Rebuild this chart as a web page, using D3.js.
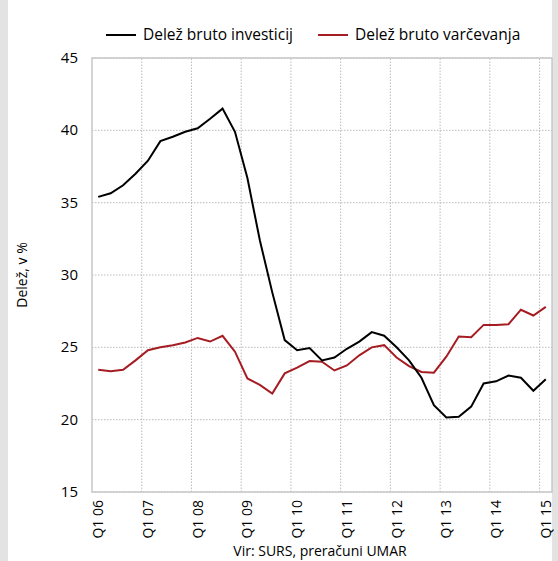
<!DOCTYPE html>
<html><head><meta charset="utf-8">
<script src="https://cdn.jsdelivr.net/npm/d3@7"></script>
<style>body{margin:0;background:#e3e3e3}svg{display:block}</style>
</head><body><div id="chart"></div>
<script>
const years = ["06","07","08","09","10","11","12","13","14","15"];
const quarters = [];
years.forEach((y, i) => { for (let q = 1; q <= 4; q++) if (i < 9 || q === 1) quarters.push("Q" + q + " " + y); });
const investicije = [35.4,35.65,36.2,37.0,37.9,39.25,39.56,39.9,40.14,40.8,41.5,39.9,36.7,32.4,28.8,25.5,24.8,24.95,24.1,24.3,24.9,25.4,26.05,25.8,25.0,24.1,22.9,21.0,20.15,20.2,20.9,22.5,22.65,23.05,22.9,22.0,22.8];
const varcevanje = [23.45,23.35,23.45,24.1,24.8,25.0,25.15,25.33,25.65,25.4,25.8,24.7,22.85,22.4,21.8,23.2,23.6,24.05,24.0,23.4,23.75,24.45,25.0,25.15,24.3,23.7,23.3,23.25,24.35,25.75,25.7,26.55,26.55,26.6,27.6,27.2,27.8];
const yTicks = [15,20,25,30,35,40,45];

const W = 558, H = 561, m = {l: 92, r: 6, t: 58, b: 69};
const svg = d3.select("#chart").append("svg").attr("width", W).attr("height", H)
  .style("font-family", "'Open Sans', sans-serif");
svg.append("rect").attr("x", 8).attr("y", 0).attr("width", 544).attr("height", H).attr("fill", "#fff");

const x = d3.scaleBand().domain(quarters).range([m.l, W - m.r]);
const y = d3.scaleLinear().domain([15, 45]).range([H - m.b, m.t]);
const cx = d => x(d) + x.bandwidth() / 2;

const g = svg.append("g");
g.selectAll(".hg").data(yTicks).enter().append("line")
  .attr("x1", m.l).attr("x2", x.range()[1]).attr("y1", d => y(d)).attr("y2", d => y(d))
  .attr("stroke", "#bbb").attr("stroke-dasharray", "1.5,1.5");
const q1 = quarters.filter(q => q.startsWith("Q1"));
g.selectAll(".vg").data(q1.slice(1)).enter().append("line")
  .attr("x1", d => x(d)).attr("x2", d => x(d)).attr("y1", y(15)).attr("y2", y(45))
  .attr("stroke", "#bbb").attr("stroke-dasharray", "1.5,1.5");
g.append("rect").attr("x", m.l).attr("y", y(45)).attr("width", x.range()[1] - m.l).attr("height", y(15) - y(45))
  .attr("fill", "none").attr("stroke", "#c8c8c8").attr("stroke-width", 1.5);

g.selectAll(".yt").data(yTicks).enter().append("text")
  .attr("x", 78).attr("y", d => y(d) + 5).attr("text-anchor", "end").attr("font-size", 15).text(d => d);
g.selectAll(".xt").data(q1).enter().append("text")
  .attr("transform", d => `translate(${cx(d) + 5},${y(15) + 8}) rotate(-90)`)
  .attr("text-anchor", "end").attr("font-size", 14).text(d => d);
svg.append("text").attr("transform", `translate(27,275) rotate(-90)`).attr("text-anchor", "middle")
  .attr("font-size", 14).text("Delež, v %");
svg.append("text").attr("x", 320).attr("y", 556).attr("text-anchor", "middle").attr("font-size", 14)
  .text("Vir: SURS, preračuni UMAR");

const line = d3.line().x((d, i) => cx(quarters[i])).y(d => y(d));
g.append("path").attr("d", line(varcevanje)).attr("fill", "none").attr("stroke", "#a51d22").attr("stroke-width", 2);
g.append("path").attr("d", line(investicije)).attr("fill", "none").attr("stroke", "#000").attr("stroke-width", 2);

const legend = [["Delež bruto investicij", "#000", 106], ["Delež bruto varčevanja", "#a51d22", 318]];
legend.forEach(([t, c, lx]) => {
  svg.append("line").attr("x1", lx).attr("x2", lx + 30).attr("y1", 35).attr("y2", 35).attr("stroke", c).attr("stroke-width", 2);
  svg.append("text").attr("x", lx + 37).attr("y", 40).attr("font-size", 15.5).text(t);
});
</script></body></html>
